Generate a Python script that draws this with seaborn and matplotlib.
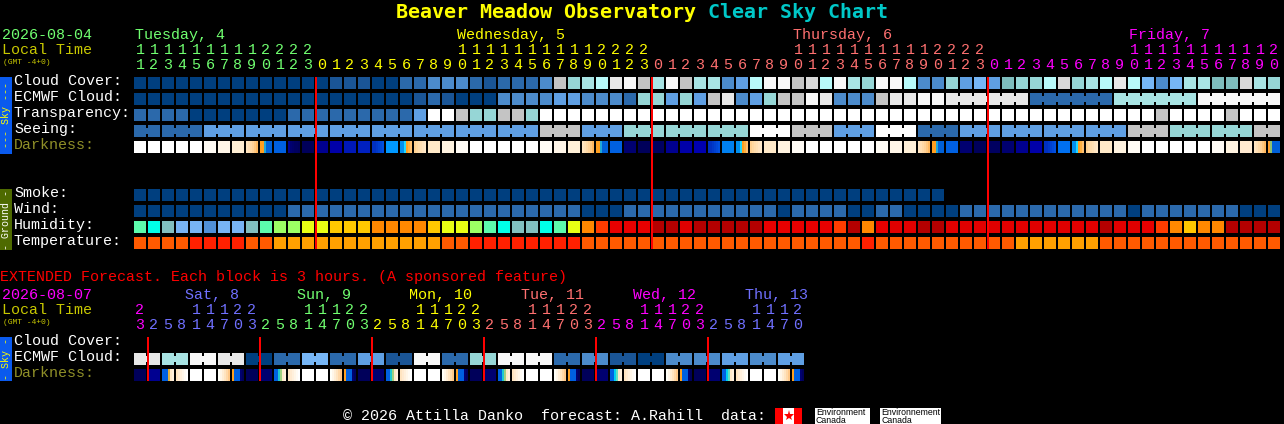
import numpy as np
import seaborn as sns
from matplotlib import pyplot as plt
from matplotlib.colors import ListedColormap
from matplotlib.patches import Rectangle

W, H = 1284, 424
LEFT, PITCH = 134, 14

sky_palette = ["#003F7F", "#1A5596", "#2B69AB", "#4C8BCB", "#5F9FE3", "#76B6F6", "#7EBDBD", "#96D6D6",
               "#A8E4E4", "#B8FAFA", "#C4C4C4", "#D8D8D8", "#E8E8E8", "#F8F8F8", "#FFFFFF"]
humidity_palette = ["#00FFE8", "#5CFCAC", "#82BFBF", "#78B4F4", "#5090D8", "#9CFF64", "#E8FF14",
                    "#FFC800", "#FF8800", "#FF3C00", "#E80000", "#E00000", "#B40000"]
temp_palette = ["#FF5A00", "#FF2000", "#FFA000"]

cloud_cover = [0, 0, 0, 0, 0, 0, 0, 0, 0, 0, 0, 0, 0, 0, 1, 1, 1, 0, 0, 2, 2, 3, 3, 3, 2, 1, 2, 2, 2, 3,
               10, 7, 8, 9, 12, 13, 10, 8, 13, 10, 8, 8, 3, 4, 9, 13, 13, 10, 11, 9, 13, 8, 7, 13, 13, 9,
               3, 3, 7, 4, 5, 4, 6, 7, 7, 9, 11, 7, 8, 9, 12, 9, 5, 3, 5, 8, 8, 6, 6, 11, 8, 7]
ecmwf_cloud = [0, 0, 0, 0, 0, 0, 0, 0, 0, 0, 0, 0, 0, 0, 0, 0, 0, 0, 0, 0, 1, 2, 1, 0, 0, 0, 3, 3, 3, 3,
               4, 4, 3, 3, 3, 2, 7, 7, 4, 7, 4, 10, 12, 3, 4, 7, 10, 10, 13, 12, 3, 3, 3, 10, 12, 12,
               13, 13, 12, 12, 12, 12, 12, 12, 2, 2, 2, 2, 2, 2, 8, 8, 8, 8, 8, 8, 13, 13, 13, 13, 13, 13]
ecmwf_groups = [1] * 58 + [6, 6, 6, 6]
transparency = [2, 2, 2, 2, 0, 0, 0, 0, 0, 0, 0, 2, 2, 2, 2, 2, 2, 2, 2, 2, 4, 14, 14, 10, 7, 7, 10, 10, 7,
                14, 14, 14, 14, 14, 14, 14, 14, 14, 14, 14, 14, 14, 14, 14, 14, 14, 14, 14, 14, 14, 14,
                14, 14, 14, 14, 14, 14, 14, 14, 14, 14, 14, 14, 14, 14, 14, 14, 14, 14, 14, 14, 14, 14,
                10, 14, 14, 14, 14, 10, 14, 14, 14]
seeing_groups = [2] + [3] * 26 + [2]
seeing_levels = [2, 2, 4, 4, 4, 4, 4, 4, 4, 4, 10, 4, 7, 7, 7, 14, 10, 4, 14, 2, 4, 4, 4, 4, 10, 7, 7, 10]

smoke = [0] * 58
wind = [0, 0, 0, 0, 0, 0, 0, 0, 0, 0, 0, 2, 2, 2, 2, 2, 2, 2, 2, 2, 2, 2, 2, 2, 2, 2, 2, 2, 2, 2, 2, 2,
        0, 0, 0, 2, 2, 2, 2, 2, 2, 2, 2, 2, 2, 2, 0, 2, 2, 2, 2, 0, 0, 2, 2, 0, 0, 0, 0, 2, 2, 2, 2, 2,
        2, 2, 2, 2, 2, 2, 2, 0, 2, 2, 2, 2, 2, 2, 2, 0, 0, 0]
humidity = [1, 0, 2, 3, 3, 4, 3, 3, 2, 1, 5, 5, 6, 6, 7, 7, 7, 8, 8, 8, 8, 7, 6, 6, 5, 1, 0, 2, 2, 0, 1, 6,
            8, 9, 10, 10, 10, 12, 12, 11, 12, 12, 12, 12, 12, 10, 10, 10, 10, 10, 9, 12, 8, 10, 11, 11,
            12, 12, 11, 11, 11, 11, 11, 11, 11, 11, 11, 11, 11, 12, 11, 11, 10, 9, 8, 7, 8, 8, 12, 12, 12, 12]
temperature = [0, 0, 0, 0, 1, 1, 1, 1, 0, 0, 2, 2, 2, 2, 2, 2, 2, 2, 2, 2, 2, 2, 0, 0, 1, 1, 1, 1, 1, 1, 1, 1,
               0, 0, 0, 0, 0, 0, 0, 0, 0, 0, 0, 0, 0, 0, 0, 0, 0, 0, 0, 0, 1, 0, 0, 0, 0, 0, 0, 0, 0, 0, 0,
               2, 2, 2, 2, 2, 2, 0, 0, 0, 0, 0, 0, 0, 0, 0, 0, 0, 0, 0]

WT = "#FFFFFF"
GLOW = ("#FFE4C0", "#FFDFB4", "#FFD9A6", "#FFD298", "#FFC880", "#FFB860")
RISE = ("#FFD090", "#FFD8A0", "#FFDCAC", "#FFE0B4", "#FFE4C0", "#FFE8C8")
DUSK = ("#FF9F20", "#FF9F20", "#20A8D8", "#0060D8", "#0060D8", "#0060D8")
DAWN = ("#0090F0", "#0090F0", "#20D8FF", "#FF9F20", "#FFB040", "#FFC070")
DUSK_G = ("#FFA030", "#8FC070", "#0060D8", "#0060D8", "#0060D8", "#0060D8")
DEEP = ("#0030C0", "#0030C0", "#0038C8", "#0040D0", "#0048D8", "#0050E0")
NIGHT = ("#000090", "#000070", "#000068", "#000060", "#000060", "#00005A")
main_darkness = [WT, WT, WT, WT, WT, "#FFFBF4", "#FFF6E8", "#FFEED4", GLOW, DUSK, "#0060E0", NIGHT, "#00005A",
                 "#000090", "#0000A8", "#0018B8", "#0020C0", DEEP, "#0098FF", DAWN, RISE, "#FFE9C8", "#FFF3E0",
                 "#FFFBF5", WT, WT, WT, WT, WT, "#FFFCF5", "#FFF6E8", "#FFF0D8", GLOW, DUSK, "#0060E0", "#000070",
                 "#00005A", "#000060", "#000090", "#0000A8", "#0000B0", DEEP, "#0080F0", DAWN, RISE, "#FFE9C8",
                 "#FFF3E0", "#FFFBF5", WT, WT, WT, WT, WT, "#FFFCF5", "#FFF6E8", "#FFF0D8", GLOW, DUSK, "#0060E0",
                 "#000070", "#00005A", "#000060", "#000070", "#000090", "#0000A8", DEEP, "#0070F0", DAWN, RISE,
                 "#FFE9C8", "#FFF3E0", "#FFFCF5", WT, WT, WT, WT, WT, "#FFFBF5", "#FFF3E0", "#FFEAD0", GLOW, DUSK_G]

ext_cloud_levels = [12, 8, 13, 12, 0, 2, 5, 2, 4, 1, 13, 2, 7, 13, 13, 2, 3, 1, 0, 3, 3, 4, 3, 4]
ext_groups = [2] * 24

X_MORN = ("#0060E0", "#0060E0", "#0060E0", "#E0B040", "#FFE8C8", "#FFF0DC")
X_MORN_G = ("#0060E0", "#0060E0", "#20C8D0", "#A0D080", "#FFE8C8", "#FFF0DC")
X_MORN_C = ("#0060E0", "#0060E0", "#00D0F0", "#60E0C0", "#FFE8C8", "#FFF0DC")
X_SOFT = ("#FFE4C0", "#FFEAD0", "#FFF0DC", "#FFF6E8", "#FFFBF4", "#FFFFFF")
X_EVE = ("#FFFFF8", "#FFF6E8", "#FFEDD4", "#FFE4C0", "#FFD8A8", "#FFC888")
X_DUSK = ("#FFA020", "#0060E0", "#0060E0", "#0060E0", "#000070", "#00005A")
ext_darkness = ["#00005A", "#000090", X_MORN, X_SOFT, WT, WT, X_EVE, X_DUSK,
                "#00005A", "#000070", X_MORN_G, X_SOFT, WT, WT, X_EVE, X_DUSK,
                "#00005A", "#000070", X_MORN_G, X_SOFT, WT, WT, X_EVE, X_DUSK,
                "#00005A", "#000070", X_MORN_G, X_SOFT, WT, WT, X_EVE, X_DUSK,
                "#00005A", "#000070", X_MORN_C, X_SOFT, WT, WT, X_EVE, X_DUSK,
                "#00005A", "#000070", X_MORN_C, X_SOFT, WT, WT, X_EVE, X_DUSK]

main_hours = [11, 12, 13, 14, 15, 16, 17, 18, 19, 20, 21, 22, 23,
              0, 1, 2, 3, 4, 5, 6, 7, 8, 9, 10, 11, 12, 13, 14, 15, 16, 17, 18, 19, 20, 21, 22, 23,
              0, 1, 2, 3, 4, 5, 6, 7, 8, 9, 10, 11, 12, 13, 14, 15, 16, 17, 18, 19, 20, 21, 22, 23,
              0, 1, 2, 3, 4, 5, 6, 7, 8, 9, 10, 11, 12, 13, 14, 15, 16, 17, 18, 19, 20]
main_day_colors = ["#70FF70", "#FFFF00", "#FF7070", "#FF00FF"]
main_day_labels = ["Tuesday, 4", "Wednesday, 5", "Thursday, 6", "Friday, 7"]
main_label_cols = [0, 23, 47, 71]

ext_hours = [23, 2, 5, 8, 11, 14, 17, 20, 23, 2, 5, 8, 11, 14, 17, 20, 23, 2, 5, 8, 11, 14, 17, 20, 23,
             2, 5, 8, 11, 14, 17, 20, 23, 2, 5, 8, 11, 14, 17, 20, 23, 2, 5, 8, 11, 14, 17, 20]
ext_day_colors = ["#FF00FF", "#7070FF", "#70FF70", "#FFFF00", "#FF7070", "#FF00FF", "#7070FF"]
ext_day_labels = ["Sat, 8", "Sun, 9", "Mon, 10", "Tue, 11", "Wed, 12", "Thu, 13"]

main_labels = ["Cloud Cover:", "ECMWF Cloud:", "Transparency:", "Seeing:", "Darkness:"]
ground_labels = ["Smoke:", "Wind:", "Humidity:", "Temperature:"]
ext_labels = ["Cloud Cover:", "ECMWF Cloud:", "Darkness:"]


sns.set_theme(style="white")
plt.rcParams["font.family"] = ["Liberation Mono"]

fig = plt.figure(figsize=(W / 100, H / 100), dpi=100, facecolor="black")


def draw_row(top, cells, groups=None):
    # each column is 14 px: six 2 px cells of colour and one cell of gap, four 3 px rows high
    groups = groups or [1] * len(cells)
    joined = np.cumsum(groups)
    grid = [[], [], [], []]
    for i, cell in enumerate(cells):
        subs = list(cell) if isinstance(cell, tuple) else [cell] * 6
        bridge = subs[-1] if (i + 1) not in joined and i + 1 < len(cells) else "#000000"
        grid[0] += subs + ["#000000"]
        grid[1] += subs + [bridge]
        grid[2] += subs + [bridge]
        grid[3] += subs + ["#000000"]
    colors = sorted({c for r in grid for c in r})
    data = np.array([[colors.index(c) for c in r] for r in grid])
    ax = fig.add_axes([LEFT / W, 1 - (top + 12) / H, PITCH * len(cells) / W, 12 / H])
    sns.heatmap(data, ax=ax, cmap=ListedColormap(colors), vmin=-0.5, vmax=len(colors) - 0.5,
                cbar=False, xticklabels=False, yticklabels=False)
    ax.set_axis_off()


def sky(levels):
    return [sky_palette[i] for i in levels]


draw_row(77, sky(cloud_cover))
draw_row(93, sky(ecmwf_cloud), ecmwf_groups)
draw_row(109, sky(transparency))
draw_row(125, sky(np.repeat(seeing_levels, seeing_groups)), seeing_groups)
draw_row(141, main_darkness)
draw_row(189, sky(smoke))
draw_row(205, sky(wind))
draw_row(221, [humidity_palette[i] for i in humidity])
draw_row(237, [temp_palette[i] for i in temperature])
draw_row(353, sky(np.repeat(ext_cloud_levels, ext_groups)), ext_groups)
draw_row(369, ext_darkness)

canvas = fig.add_axes([0, 0, 1, 1], zorder=5)
canvas.set_xlim(0, W)
canvas.set_ylim(H, 0)
canvas.set_axis_off()
canvas.patch.set_visible(False)


def label(x, y, s, color="white", px=15, **kw):
    canvas.text(x, y - 1, s, color=color, fontsize=px * 0.72, va="baseline", **kw)


def hour_labels(hours, color_for, base_tens, base_ones):
    for i, h in enumerate(hours):
        cx = LEFT + PITCH * i + 6
        if h >= 10:
            label(cx, base_tens, str(h // 10), color_for[i], ha="center")
        label(cx, base_ones, str(h % 10), color_for[i], ha="center")


title_font = ["DejaVu Sans Mono"]
label(396, 19, "Beaver Meadow Observatory", "#FFFF00", px=20, fontweight="bold", family=title_font)
label(708, 19, "Clear Sky Chart", "#00C8C8", px=20, fontweight="bold", family=title_font)

# main block header
label(2, 40, "2026-08-04", "#70FF70")
label(2, 55, "Local Time", "#C8C800")
label(3, 65, "(GMT -4+0)", "#C8C800", px=8)
main_colors = []
day = 0
for h in main_hours:
    if h == 0:
        day += 1
    main_colors.append(main_day_colors[day])
hour_labels(main_hours, main_colors, 55, 70)
for col, text, c in zip(main_label_cols, main_day_labels, main_day_colors):
    label(LEFT + PITCH * col + 1, 40, text, c)

for i, text in enumerate(main_labels):
    label(14, 86 + 16 * i, text, "#8F8F28" if text == "Darkness:" else "white")
for i, text in enumerate(ground_labels):
    label(14, 198 + 16 * i, text)

# extended block header
label(0, 282, "EXTENDED Forecast. Each block is 3 hours. (A sponsored feature)", "#FF0000")
label(2, 300, "2026-08-07", "#FF00FF")
label(2, 315, "Local Time", "#C8C800")
label(3, 325, "(GMT -4+0)", "#C8C800", px=8)
ext_colors = []
day = 0
for h in ext_hours:
    if h == 2:
        day += 1
    ext_colors.append(ext_day_colors[day])
hour_labels(ext_hours, ext_colors, 315, 330)
for i, text in enumerate(ext_day_labels):
    label(185 + 112 * i, 300, text, ext_day_colors[i + 1])
for i, text in enumerate(ext_labels):
    label(14, 346 + 16 * i, text, "#8F8F28" if text == "Darkness:" else "white")

# midnight markers
for i, h in enumerate(main_hours):
    if h == 0:
        canvas.add_patch(Rectangle((LEFT + PITCH * i - 1, 77), 2, 172, color="#FF0000", lw=0))
for i, h in enumerate(ext_hours):
    if h == 2:
        canvas.add_patch(Rectangle((LEFT + PITCH * i - 1, 337), 2, 44, color="#FF0000", lw=0))

# side bars
for top, bottom, bar, fg, text in [(77, 154, "#0A5AEE", "#FFFF00", "--- Sky ---"),
                                   (189, 250, "#4E6A00", "#FFFFFF", "- Ground -"),
                                   (337, 381, "#0A5AEE", "#FFFF00", "- Sky -")]:
    canvas.add_patch(Rectangle((0, top), 12, bottom - top, color=bar, lw=0))
    canvas.text(6, (top + bottom) / 2, text, color=fg, fontsize=7.2, rotation=90, ha="center", va="center")

# footer
label(343, 421, "\u00a9 2026 Attilla Danko  forecast: A.Rahill  data:")
canvas.add_patch(Rectangle((775, 408), 27, 16, color="#FF0000", lw=0))
canvas.add_patch(Rectangle((783, 408), 11, 16, color="#FFFFFF", lw=0))
canvas.plot([788.5], [415.5], marker="*", ms=8, color="#FF0000", mew=0)
canvas.add_patch(Rectangle((815, 408), 55, 16, color="#FFFFFF", lw=0))
canvas.add_patch(Rectangle((880, 408), 61, 16, color="#FFFFFF", lw=0))
for x, first in [(816, "Environment"), (881, "Environnement")]:
    canvas.text(x, 415, first, color="black", fontsize=6.3, family="Liberation Sans", va="baseline")
    canvas.text(x, 423, "Canada", color="black", fontsize=6.3, family="Liberation Sans", va="baseline")

fig.savefig("out.png", dpi=100, facecolor="black")
